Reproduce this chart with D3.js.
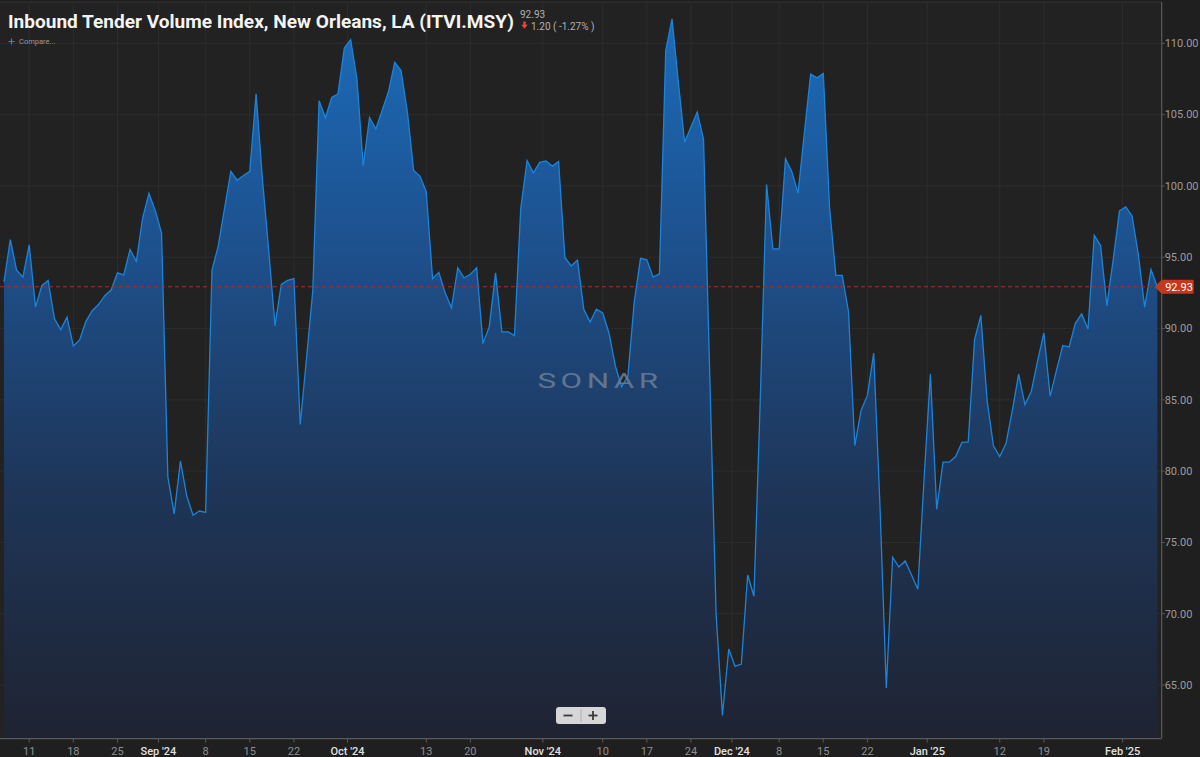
<!DOCTYPE html>
<html><head><meta charset="utf-8">
<script src="https://cdn.jsdelivr.net/npm/d3@7"></script>
<style>body{margin:0;background:#1f1f1f;overflow:hidden}svg{display:block}</style>
</head><body><svg id="chart" width="1200" height="757"></svg>
<script>
// ---------- data ----------
const titleText = "Inbound Tender Volume Index, New Orleans, LA (ITVI.MSY)";
const startDate = "2024-08-07";
const values = [
93.27,96.24,94.09,93.6,95.87,91.5,93.0,93.37,90.7,89.93,
90.8,88.78,89.2,90.5,91.25,91.68,92.3,92.7,93.9,93.76,
95.54,94.7,97.76,99.47,98.28,96.7,79.6,77.0,80.7,78.25,
76.9,77.2,77.1,94.09,95.8,98.45,101.02,100.4,100.73,101.02,
106.47,100.5,95.5,90.2,93.1,93.37,93.5,83.27,87.9,92.67,
105.97,104.79,106.2,106.47,109.67,110.26,107.52,101.42,104.79,104.0,
105.3,106.6,108.68,108.09,105.2,101.09,100.69,99.6,93.5,93.93,
92.5,91.45,94.26,93.56,93.8,94.26,88.94,90.13,93.9,89.77,
89.77,89.5,98.45,101.78,100.92,101.65,101.75,101.39,101.72,94.98,
94.39,94.8,91.35,90.46,91.35,91.09,89.67,87.39,85.91,86.67,
91.85,94.92,94.82,93.6,93.83,109.5,111.72,107.29,103.07,104.13,
105.18,103.27,86.5,69.9,62.87,67.52,66.3,66.47,72.71,71.22,
85.0,100.1,95.58,95.58,101.91,101.02,99.5,103.73,107.85,107.59,
107.89,98.45,93.73,93.73,91.19,81.78,84.26,85.31,88.28,77.5,
64.79,73.96,73.27,73.7,72.71,71.72,79.5,86.8,77.33,80.63,
80.63,81.02,82.01,82.05,89.21,90.92,84.92,81.78,81.02,81.95,
84.26,86.8,84.65,85.58,87.72,89.7,85.25,87.06,88.81,88.71,
90.36,91.02,89.97,96.53,95.82,91.6,94.82,98.25,98.53,97.9,
95.15,91.5,94.13,92.93
];
const yTicks = [65,70,75,80,85,90,95,100,105,110];
const weekTicks = ["2024-08-11","2024-08-18","2024-08-25","2024-09-08","2024-09-15","2024-09-22",
  "2024-10-13","2024-10-20","2024-11-10","2024-11-17","2024-11-24","2024-12-08","2024-12-15",
  "2024-12-22","2025-01-12","2025-01-19"];
const monthTicks = ["2024-09-01","2024-10-01","2024-11-01","2024-12-01","2025-01-01","2025-02-01"];
const monthLabels = ["Sep '24","Oct '24","Nov '24","Dec '24","Jan '25","Feb '25"];
const lastValue = 92.93, changeAbs = "1.20", changePct = "-1.27%";

// ---------- layout ----------
const W = 1200, H = 757;
const plot = {left:0, right:1161.7, top:2, bottom:738.6};
const svg = d3.select("#chart");
const parse = d3.utcParse("%Y-%m-%d");
const t0 = parse(startDate);
const data = values.map((v,i)=>({date:d3.utcDay.offset(t0,i), v}));

const x = d3.scaleUtc().domain([data[0].date, data[data.length-1].date]).range([4, 1157.3]);
const y = d3.scaleLinear().domain([61.24, 112.9]).range([plot.bottom, plot.top]);

const defs = svg.append("defs");
const grad = defs.append("linearGradient").attr("id","fillGrad")
  .attr("gradientUnits","userSpaceOnUse").attr("x1",0).attr("x2",0)
  .attr("y1",y(112)).attr("y2",plot.bottom);
[[0,"#1b6cba"],[0.3,"#1d5290"],[0.65,"#1e3659"],[1,"#1f2331"]].forEach(([o,c])=>
  grad.append("stop").attr("offset",o).attr("stop-color",c));

svg.append("rect").attr("width",W).attr("height",H).attr("fill","#1f1f1f");
svg.append("rect").attr("x",plot.left).attr("y",plot.top)
  .attr("width",plot.right-plot.left).attr("height",plot.bottom-plot.top).attr("fill","#222222");

// grid
const weekDates = weekTicks.map(parse);
const monthDates = monthTicks.map(d=>d3.utcHour.offset(parse(d),-12));
const allTicks = weekDates.map(d=>({d,label:d3.utcFormat("%-d")(d),major:false}))
  .concat(monthDates.map((d,i)=>({d,label:monthLabels[i],major:true})));
const g = svg.append("g");
g.selectAll(".hg").data(yTicks).join("line")
  .attr("x1",plot.left).attr("x2",plot.right)
  .attr("y1",d=>y(d)).attr("y2",d=>y(d))
  .attr("stroke","#2d2d2d").attr("stroke-width",1);
g.selectAll(".vg").data(allTicks).join("line")
  .attr("x1",d=>x(d.d)).attr("x2",d=>x(d.d))
  .attr("y1",plot.top).attr("y2",plot.bottom)
  .attr("stroke","#2d2d2d").attr("stroke-width",1);

// area + line
const area = d3.area().x(d=>x(d.date)).y0(plot.bottom).y1(d=>y(d.v));
const line = d3.line().x(d=>x(d.date)).y(d=>y(d.v));
svg.append("path").datum(data).attr("d",area).attr("fill","url(#fillGrad)");
svg.append("path").datum(data).attr("d",line).attr("fill","none")
  .attr("stroke","#1b84da").attr("stroke-width",1.3).attr("stroke-linejoin","miter");

// frame
svg.append("line").attr("x1",0).attr("x2",plot.right).attr("y1",plot.top).attr("y2",plot.top)
  .attr("stroke","#333").attr("stroke-width",1);
svg.append("line").attr("x1",plot.right).attr("x2",plot.right).attr("y1",plot.top).attr("y2",plot.bottom)
  .attr("stroke","#5a5a5a").attr("stroke-width",1.2);
svg.append("line").attr("x1",0).attr("x2",plot.right).attr("y1",plot.bottom).attr("y2",plot.bottom)
  .attr("stroke","#5a5a5a").attr("stroke-width",1.2);

// watermark
svg.append("text").attr("x",537.5).attr("y",387.5)
  .attr("font-family","Roboto, 'Noto Sans', sans-serif").attr("font-weight",400)
  .attr("font-size",21).attr("letter-spacing",3).attr("fill","#6e7f95").attr("fill-opacity",0.85)
  .attr("textLength",125).attr("lengthAdjust","spacingAndGlyphs").text("SONAR");

// last-value dashed line
const yl = y(lastValue);
svg.append("line").attr("x1",plot.left).attr("x2",plot.right).attr("y1",yl).attr("y2",yl)
  .attr("stroke","#9a3424").attr("stroke-width",1).attr("stroke-dasharray","4,3");

// y axis labels + ticks
svg.selectAll(".yt").data(yTicks).join("line")
  .attr("x1",plot.right).attr("x2",plot.right+3).attr("y1",d=>y(d)).attr("y2",d=>y(d))
  .attr("stroke","#5a5a5a");
svg.selectAll(".yl").data(yTicks).join("text")
  .attr("x",plot.right+3).attr("y",d=>y(d)).attr("dy","0.35em")
  .attr("font-family","Roboto, sans-serif").attr("font-size",11).attr("fill","#9c9c9c")
  .text(d=>d3.format(".2f")(d));

// last value tag
const tg = svg.append("g");
tg.append("path").attr("d",`M${plot.right-7},${yl} L${plot.right},${yl-7} L${plot.right+31},${yl-7} Q${plot.right+32},${yl-7} ${plot.right+32},${yl-6} L${plot.right+32},${yl+6} Q${plot.right+32},${yl+7} ${plot.right+31},${yl+7} L${plot.right},${yl+7} Z`)
  .attr("fill","#c4391d");
tg.append("text").attr("x",plot.right+3.5).attr("y",yl).attr("dy","0.36em")
  .attr("font-family","Roboto, sans-serif").attr("font-size",11).attr("fill","#ffffff")
  .text(d3.format(".2f")(lastValue));

// x axis
svg.selectAll(".xt").data(allTicks).join("line")
  .attr("x1",d=>x(d.d)).attr("x2",d=>x(d.d)).attr("y1",plot.bottom).attr("y2",plot.bottom+4)
  .attr("stroke","#5a5a5a");
svg.selectAll(".xl").data(allTicks).join("text")
  .attr("x",d=>x(d.d)).attr("y",755).attr("text-anchor","middle")
  .attr("font-family","Roboto, sans-serif").attr("font-size",11)
  .attr("font-weight",d=>d.major?500:400)
  .attr("fill",d=>d.major?"#e0e0e0":"#8e8e8e")
  .text(d=>d.label);

// zoom control
const zc = svg.append("g");
zc.append("rect").attr("x",556).attr("y",707).attr("width",50).attr("height",17).attr("rx",3)
  .attr("fill","#d6d6d6");
zc.append("line").attr("x1",581).attr("x2",581).attr("y1",709).attr("y2",722).attr("stroke","#b0b0b0");
zc.append("rect").attr("x",563.5).attr("y",714.6).attr("width",9).attr("height",1.8).attr("fill","#3a3a3a");
zc.append("rect").attr("x",588.5).attr("y",714.6).attr("width",9).attr("height",1.8).attr("fill","#3a3a3a");
zc.append("rect").attr("x",592.1).attr("y",711).attr("width",1.8).attr("height",9).attr("fill","#3a3a3a");

// title block
svg.append("text").attr("x",8).attr("y",28)
  .attr("font-family","Roboto, 'Noto Sans', sans-serif").attr("font-weight",700).attr("font-size",19.2)
  .attr("textLength",506).attr("lengthAdjust","spacingAndGlyphs")
  .attr("fill","#f4f4f4").text(titleText);
svg.append("text").attr("x",520).attr("y",17.5)
  .attr("font-family","Roboto, sans-serif").attr("font-size",10).attr("fill","#b0b0b0")
  .text(d3.format(".2f")(lastValue));
svg.append("path").attr("d","M523.3,21.5 h2.4 v3.3 h2 l-3.2,3.9 l-3.2,-3.9 h2 z").attr("fill","#e5483a");
svg.append("text").attr("x",531).attr("y",29.5)
  .attr("font-family","Roboto, sans-serif").attr("font-size",10).attr("fill","#b0b0b0")
  .text(`${changeAbs} ( ${changePct} )`);
svg.append("path").attr("d","M8.5,41.5 h6 M11.5,38.5 v6").attr("stroke","#2f86dc").attr("stroke-width",1.2);
svg.append("text").attr("x",19).attr("y",44)
  .attr("font-family","Roboto, sans-serif").attr("font-size",7.5).attr("fill","#9a9a9a")
  .text("Compare...");
</script></body></html>
